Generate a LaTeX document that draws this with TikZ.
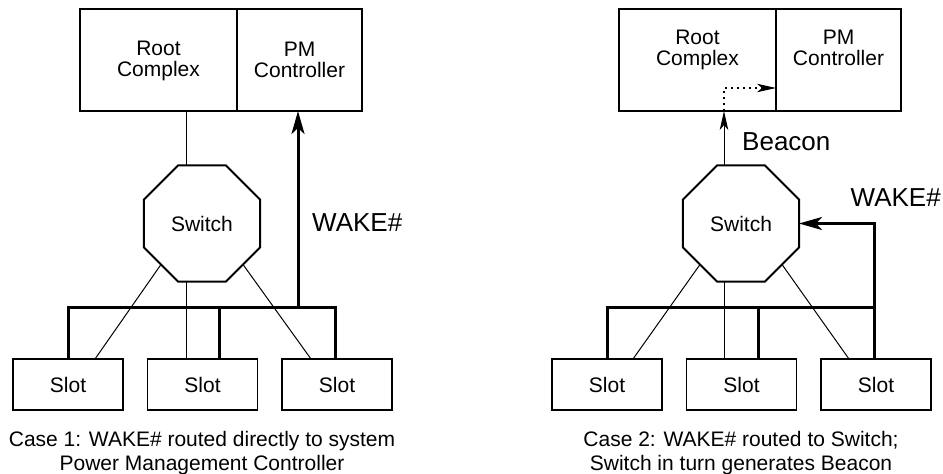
\documentclass[tikz,border=0pt]{standalone}
\usepackage{fontspec}
\setmainfont{Liberation Sans}
\usetikzlibrary{shapes.geometric,arrows.meta,calc}
\begin{document}
\begin{tikzpicture}[x=1pt,y=-1pt,
  box/.style={draw, line width=1.3pt, rectangle, inner sep=0pt, outer sep=0pt},
  slotbox/.style={box, minimum width=110pt, minimum height=51pt, font=\fontsize{21}{21}\selectfont},
  octbox/.style={draw, line width=2pt, regular polygon, regular polygon sides=8, minimum size=125.6pt, inner sep=0pt, outer sep=0pt, font=\fontsize{21}{21}\selectfont},
  boxtext/.style={align=center, inner sep=0pt, font=\fontsize{21}{21}\selectfont},
  bigtext/.style={inner sep=0pt, font=\fontsize{26}{26}\selectfont, anchor=west},
  captext/.style={align=center, inner sep=0pt, font=\fontsize{21}{24}\selectfont},
  thinline/.style={line width=1pt},
  busline/.style={line width=3pt},
  bigarrow/.style={-{Stealth[length=23pt,width=13pt,inset=6pt]}},
  smallarrow/.style={-{Stealth[length=19pt,width=8.5pt,inset=5pt]}},
  dotline/.style={line width=1.2pt, dash pattern=on 2pt off 4pt},
]
\useasboundingbox (0,0) rectangle (943,474);

% ---------------- Case 1 ----------------
\node[box, minimum width=157pt, minimum height=102pt] (rc1) at (158.5,60) {};
\node[box, minimum width=125pt, minimum height=102pt] (pm1) at (299.5,60) {};
\node[boxtext] (rc1t) at (158.5,61) {Root\\Complex};
\node[boxtext] (pm1t) at (299.5,60) {PM\\Controller};
\node[octbox] (sw1) at (202,223.5) {Switch};
\node[slotbox] (s11) at (68,384.5) {Slot};
\node[slotbox] (s12) at (202.5,384.5) {Slot};
\node[slotbox] (s13) at (337,384.5) {Slot};
\coordinate (bus1) at (0,307);
\coordinate (v1) at (186,0);
\draw[thinline] (v1 |- rc1.south) -- (v1 |- sw1.north);
\draw[thinline] (v1 |- sw1.south) -- (v1 |- s12.north);
\draw[thinline] (sw1.225) -- ($(s11.north)+(27,0)$);
\draw[thinline] (sw1.315) -- ($(s13.north)+(-26,0)$);
\coordinate (e13) at ($(s13.north)+(-2,0)$);
\draw[busline] (s11.north) -- (s11.north |- bus1) -- (e13 |- bus1) -- (e13);
\coordinate (m12) at ($(s12.north)+(16.5,0)$);
\draw[busline] (m12) -- (m12 |- bus1);
\coordinate (w1) at (298,307);
\draw[busline,bigarrow] (w1) -- (w1 |- pm1.south);
\node[bigtext] (wk1) at (312,222.5) {WAKE\#};
\node[captext] (cap1) at (202,452.6) {Case 1: WAKE\# routed directly to system\\Power Management Controller};

% ---------------- Case 2 ----------------
\begin{scope}[xshift=539pt]
\node[box, minimum width=157pt, minimum height=102pt] (rc2) at (158.5,60) {};
\node[box, minimum width=125pt, minimum height=102pt] (pm2) at (299.5,60) {};
\node[boxtext] (rc2t) at (158.5,50) {Root\\Complex};
\node[boxtext] (pm2t) at (299.5,48) {PM\\Controller};
\node[octbox] (sw2) at (202,223.5) {Switch};
\node[slotbox] (s21) at (68,384.5) {Slot};
\node[slotbox] (s22) at (202.5,384.5) {Slot};
\node[slotbox] (s23) at (337,384.5) {Slot};
\coordinate (bus2) at (0,307);
\coordinate (v2) at (185,0);
\coordinate (d2) at (0,88);
\draw[thinline,smallarrow] (v2 |- sw2.north) -- (v2 |- rc2.south);
\draw[dotline,smallarrow] (v2 |- rc2.south) -- (v2 |- d2) -- (rc2.east |- d2);
\draw[thinline] (v2 |- sw2.south) -- (v2 |- s22.north);
\draw[thinline] (sw2.225) -- ($(s21.north)+(26,0)$);
\draw[thinline] (sw2.315) -- ($(s23.north)+(-27,0)$);
\coordinate (e23) at ($(s23.north)+(-2,0)$);
\draw[busline] (s21.north) -- (s21.north |- bus2) -- (e23 |- bus2);
\coordinate (m22) at ($(s22.north)+(16.5,0)$);
\draw[busline] (m22) -- (m22 |- bus2);
\draw[busline,bigarrow] (e23) -- (e23 |- sw2.east) -- (sw2.east);
\node[bigtext] (bc2) at (203,141.5) {Beacon};
\node[bigtext] (wk2) at (311.5,197.5) {WAKE\#};
\node[captext] (cap2) at (202,452.6) {Case 2: WAKE\# routed to Switch;\\Switch in turn generates Beacon};
\end{scope}
\end{tikzpicture}
\end{document}
